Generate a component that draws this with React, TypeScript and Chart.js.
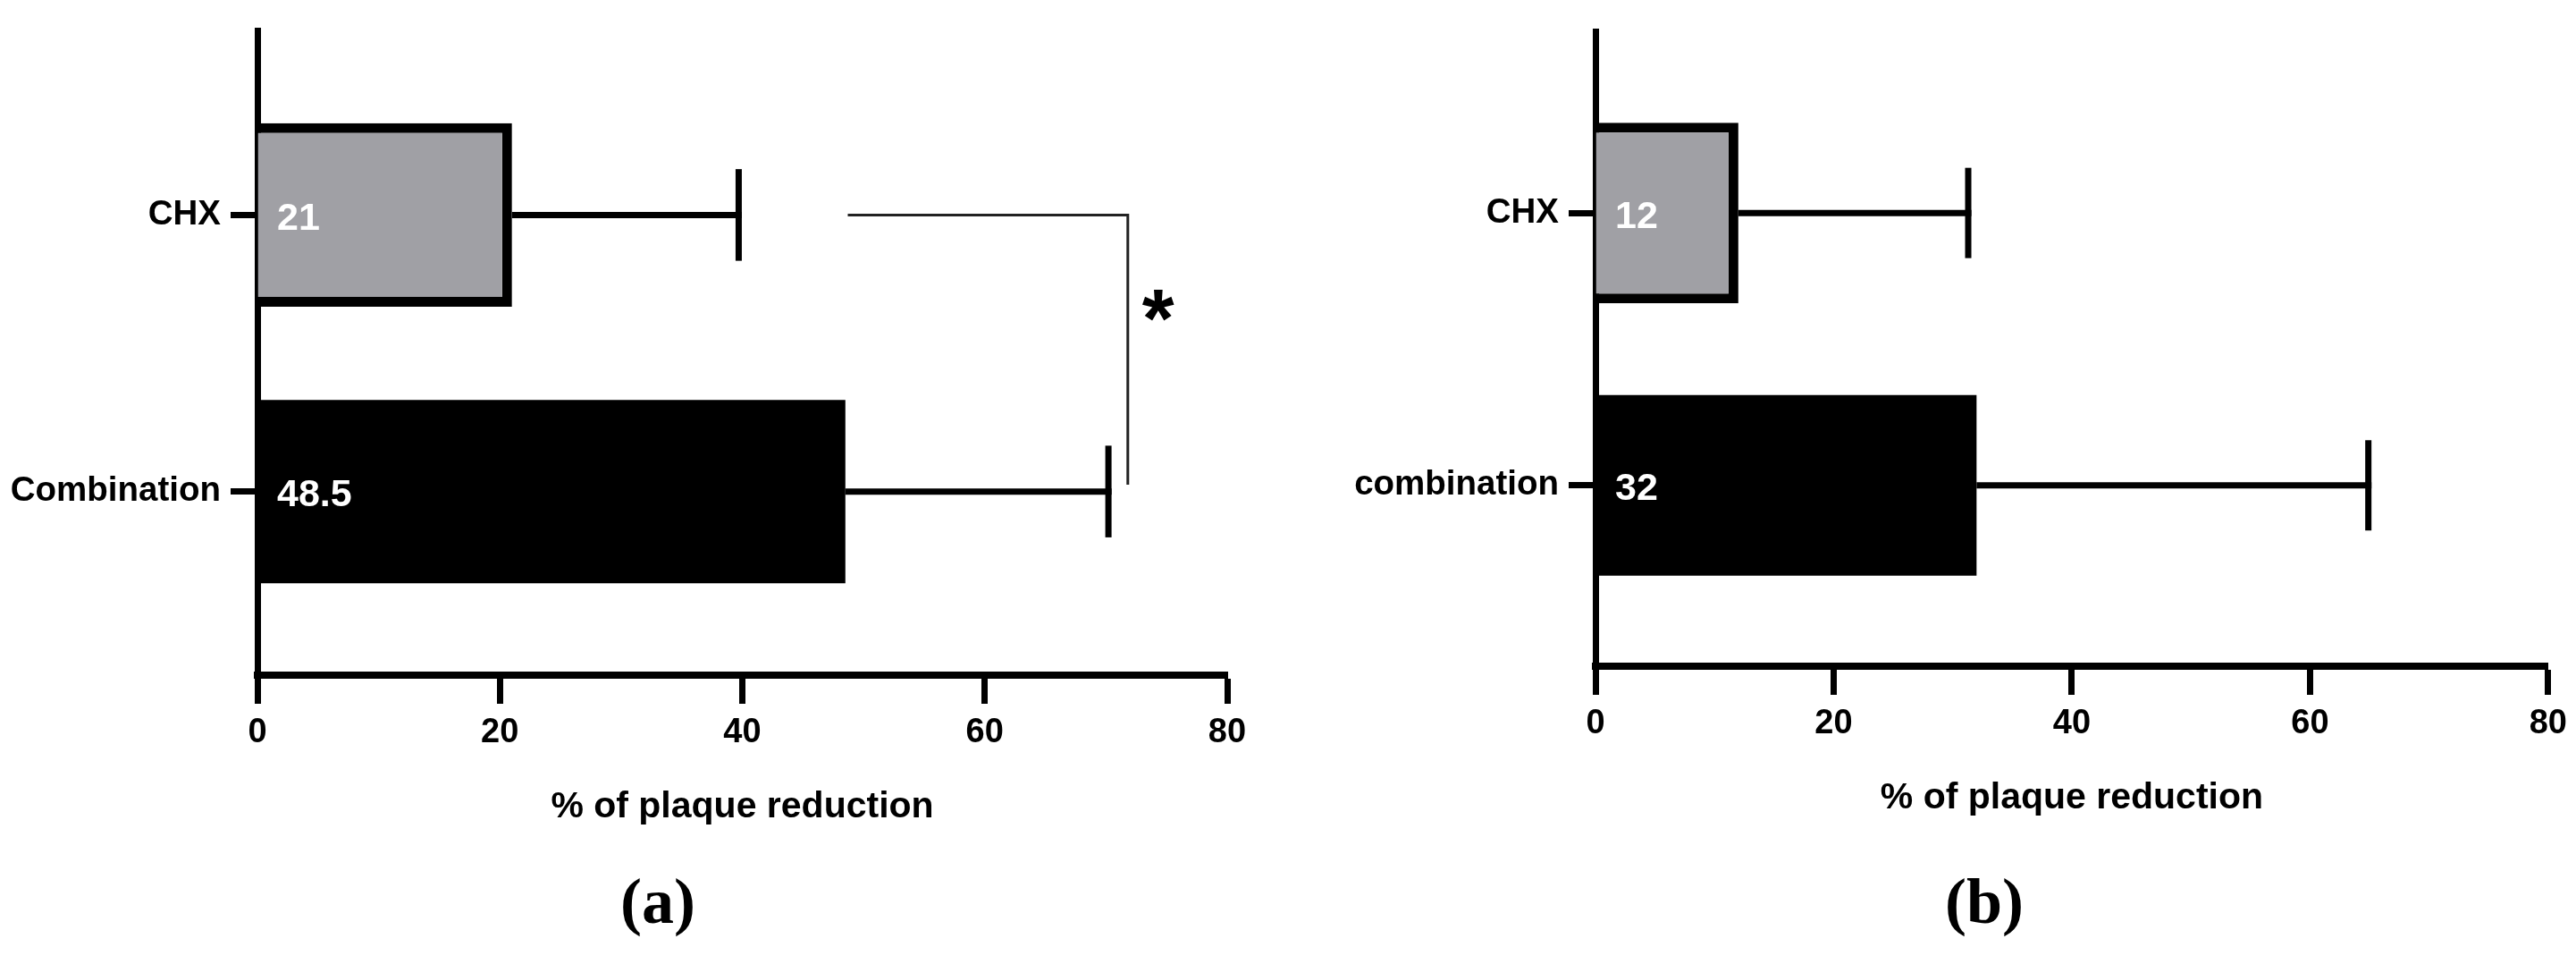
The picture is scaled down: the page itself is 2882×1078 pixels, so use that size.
import React, { useEffect, useRef } from "react";
import { Chart, registerables } from "chart.js";

Chart.register(...registerables);

// ---------- data ----------
const CATEGORIES_A = ["CHX", "Combination"];
const MEANS_A = [21, 48.5];
const ERRORS_A = [18.7, 21.7];
const VALUE_LABELS_A = ["21", "48.5"];

const CATEGORIES_B = ["CHX", "combination"];
const MEANS_B = [12, 32];
const ERRORS_B = [19.3, 32.9];
const VALUE_LABELS_B = ["12", "32"];

const BAR_COLORS = ["#a0a0a5", "#000000"];
const BAR_BORDER_WIDTHS = [11, 0];
const X_TICKS = [0, 20, 40, 60, 80];
const X_TITLE = "% of plaque reduction";
const SIG_A = { from: 48.7, to: 71.8, label: "*" };
const PANEL_LABELS = ["(a)", "(b)"];

const SANS = '"Liberation Sans", Arial, sans-serif';
const SERIF = '"Liberation Serif", "Times New Roman", serif';

type PanelProps = {
  categories: string[];
  means: number[];
  errors: number[];
  valueLabels: string[];
  sig?: { from: number; to: number; label: string };
  panelLabel: string;
  panelLabelX: number;
  left: number;
  yAxisWidth: number;
  padding: { top: number; right: number; bottom: number; left: number };
  xAxisHeight: number;
};

function drawCentered(ctx: CanvasRenderingContext2D, text: string, x: number, cy: number) {
  const m = ctx.measureText(text);
  const asc = m.actualBoundingBoxAscent;
  const desc = m.actualBoundingBoxDescent;
  ctx.fillText(text, x, cy + (asc - desc) / 2);
}

function Panel(p: PanelProps) {
  const ref = useRef<HTMLCanvasElement | null>(null);
  useEffect(() => {
    if (!ref.current) return;
    const overlay = {
      id: "overlay",
      afterDatasetsDraw(chart: any) {
        const { ctx } = chart;
        const xs = chart.scales.x;
        const ys = chart.scales.y;
        const meta = chart.getDatasetMeta(0);
        ctx.save();
        // error bars (positive side only)
        ctx.strokeStyle = "#000";
        ctx.lineWidth = 7;
        ctx.lineCap = "butt";
        p.means.forEach((m, i) => {
          const y = ys.getPixelForValue(i);
          const x0 = xs.getPixelForValue(m);
          const x1 = xs.getPixelForValue(m + p.errors[i]);
          const half = meta.data[i].height * 0.25;
          ctx.beginPath();
          ctx.moveTo(x0, y);
          ctx.lineTo(x1 + 3.5, y);
          ctx.stroke();
          ctx.beginPath();
          ctx.moveTo(x1, y - half);
          ctx.lineTo(x1, y + half);
          ctx.stroke();
        });
        // value labels inside bars
        ctx.fillStyle = "#ffffff";
        ctx.font = `bold 43px ${SANS}`;
        ctx.textAlign = "left";
        ctx.textBaseline = "alphabetic";
        p.valueLabels.forEach((t, i) => {
          const y = ys.getPixelForValue(i);
          drawCentered(ctx, t, chart.chartArea.left + 22, y + 2);
        });
        // significance bracket
        if (p.sig) {
          const yTop = ys.getPixelForValue(0);
          const yBot = ys.getPixelForValue(0.975);
          const xa = xs.getPixelForValue(p.sig.from);
          const xb = xs.getPixelForValue(p.sig.to);
          ctx.strokeStyle = "#222";
          ctx.lineWidth = 3;
          ctx.beginPath();
          ctx.moveTo(xa, yTop);
          ctx.lineTo(xb, yTop);
          ctx.lineTo(xb, yBot);
          ctx.stroke();
          ctx.fillStyle = "#000";
          ctx.font = `bold 100px ${SANS}`;
          const mm = ctx.measureText(p.sig.label);
          const gh = mm.actualBoundingBoxAscent + mm.actualBoundingBoxDescent;
          const size = (100 * 35) / (gh || 35);
          ctx.font = `bold ${size}px ${SANS}`;
          ctx.textAlign = "center";
          drawCentered(ctx, p.sig.label, xs.getPixelForValue(p.sig.to + 2.5), ys.getPixelForValue(0.326));
        }
        ctx.restore();
      },
      afterDraw(chart: any) {
        const { ctx } = chart;
        ctx.save();
        ctx.fillStyle = "#000";
        ctx.font = `bold 72px ${SERIF}`;
        ctx.textAlign = "center";
        drawCentered(ctx, p.panelLabel, p.panelLabelX, 1014);
        ctx.restore();
      },
    };

    const chart = new Chart(ref.current, {
      type: "bar",
      data: {
        datasets: [
          {
            data: p.means.map((m, i) => ({ x: m, y: i })) as any,
            backgroundColor: BAR_COLORS,
            borderColor: "#000",
            borderWidth: BAR_BORDER_WIDTHS,
            borderSkipped: "start",
            barPercentage: 0.663,
            categoryPercentage: 1,
          },
        ],
      },
      options: {
        indexAxis: "y",
        responsive: false,
        animation: false,
        devicePixelRatio: 1,
        layout: { padding: p.padding },
        plugins: { legend: { display: false }, tooltip: { enabled: false } },
        scales: {
          x: {
            type: "linear",
            min: 0,
            max: 80,
            offset: false,
            afterBuildTicks: (s: any) => {
              s.ticks = X_TICKS.map((v) => ({ value: v }));
            },
            afterFit: (s: any) => {
              s.height = p.xAxisHeight;
            },
            ticks: { font: { family: SANS, size: 38, weight: "bold" }, color: "#000", padding: 10 },
            grid: { offset: false, drawOnChartArea: false, tickLength: 32, tickWidth: 7, tickColor: "#000" },
            border: { display: true, color: "#000", width: 8 },
            title: {
              display: true,
              text: X_TITLE,
              color: "#000",
              font: { family: SANS, size: 41, weight: "bold" },
              padding: 0,
            },
          },
          y: {
            type: "linear",
            reverse: true,
            offset: false,
            min: -0.667,
            max: 1.664,
            afterBuildTicks: (s: any) => {
              s.ticks = p.categories.map((_, i) => ({ value: i }));
            },
            afterFit: (s: any) => {
              s.width = p.yAxisWidth;
            },
            ticks: {
              callback: (v: any) => p.categories[v] ?? "",
              font: { family: SANS, size: 38.5, weight: "bold" },
              color: "#000",
              padding: 11,
              autoSkip: false,
            },
            grid: { offset: false, drawOnChartArea: false, tickLength: 30, tickWidth: 7, tickColor: "#000" },
            border: { display: true, color: "#000", width: 7 },
          },
        },
      } as any,
      plugins: [overlay],
    });
    return () => chart.destroy();
  }, []);
  return (
    <canvas
      ref={ref}
      width={1441}
      height={1078}
      style={{ position: "absolute", left: p.left, top: 0, width: 1441, height: 1078 }}
    />
  );
}

export default function App() {
  return (
    <div style={{ position: "absolute", left: 0, top: 0, width: 2882, height: 1078, background: "#fff" }}>
      <Panel
        categories={CATEGORIES_A}
        means={MEANS_A}
        errors={ERRORS_A}
        valueLabels={VALUE_LABELS_A}
        sig={SIG_A}
        panelLabel={PANEL_LABELS[0]}
        panelLabelX={736}
        left={0}
        yAxisWidth={288}
        padding={{ top: 32, right: 68, bottom: 151, left: 0 }}
        xAxisHeight={172}
      />
      <Panel
        categories={CATEGORIES_B}
        means={MEANS_B}
        errors={ERRORS_B}
        valueLabels={VALUE_LABELS_B}
        panelLabel={PANEL_LABELS[1]}
        panelLabelX={2220 - 1441}
        left={1441}
        yAxisWidth={344}
        padding={{ top: 35, right: 31, bottom: 161, left: 0 }}
        xAxisHeight={172}
      />
    </div>
  );
}
